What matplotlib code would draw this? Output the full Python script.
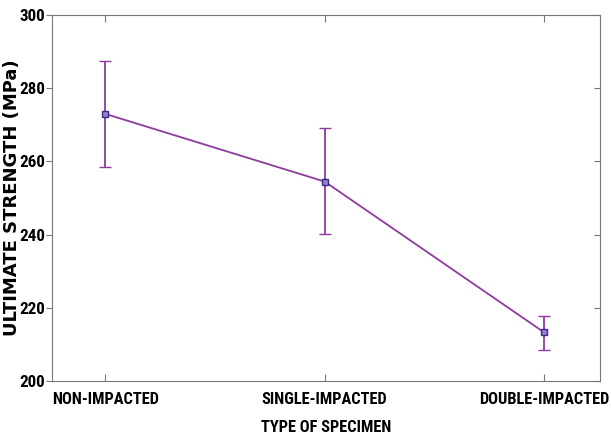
import matplotlib.pyplot as plt
from matplotlib.lines import TICKLEFT

specimens = ["NON-IMPACTED", "SINGLE-IMPACTED", "DOUBLE-IMPACTED"]
positions = [1, 2, 3]
strength = [273.0, 254.5, 213.3]
err_low = [14.6, 14.2, 4.7]
err_high = [14.5, 14.5, 4.5]

narrow = "Roboto Condensed"

fig = plt.figure(figsize=(6.11, 4.41), dpi=100)
ax = fig.add_axes([52/611, 60/441, 548/611, 366/441])

ax.errorbar(positions, strength, yerr=[err_low, err_high], color="#8e3a9e",
            lw=1.3, elinewidth=1.3, capsize=4, capthick=1.2,
            marker="s", ms=5, mfc="#9a7fd0", mec="#3a2a8a", mew=1)

ax.set_xlim(0.758, 3.255)
ax.set_ylim(200, 300)
ax.set_xticks(positions)
ax.set_xticklabels(specimens, fontfamily=narrow, fontweight="bold", fontsize=11.8)
ax.set_yticks([200, 220, 240, 260, 280, 300])
for t in ax.get_yticklabels():
    t.set_fontfamily(narrow)
    t.set_fontweight("bold")
    t.set_fontsize(12.3)
ax.tick_params(axis="x", direction="in", top=True, length=5, color="#777777", pad=8)
ax.tick_params(axis="y", direction="out", right=True, length=4, color="#777777", pad=1)
# left ticks stick out, right ticks point inward
for tk in ax.yaxis.get_major_ticks():
    tk.tick2line.set_marker(TICKLEFT)
for s in ax.spines.values():
    s.set_color("#777777")

ax.set_xlabel("TYPE OF SPECIMEN", fontfamily=narrow, fontweight="bold", fontsize=11.8, labelpad=9)
ax.set_ylabel("ULTIMATE STRENGTH (MPa)", fontfamily="DejaVu Sans", fontweight="bold",
              fontsize=13)
ax.yaxis.set_label_coords(-31/548, 0.5)

fig.savefig("out.png", dpi=100)
